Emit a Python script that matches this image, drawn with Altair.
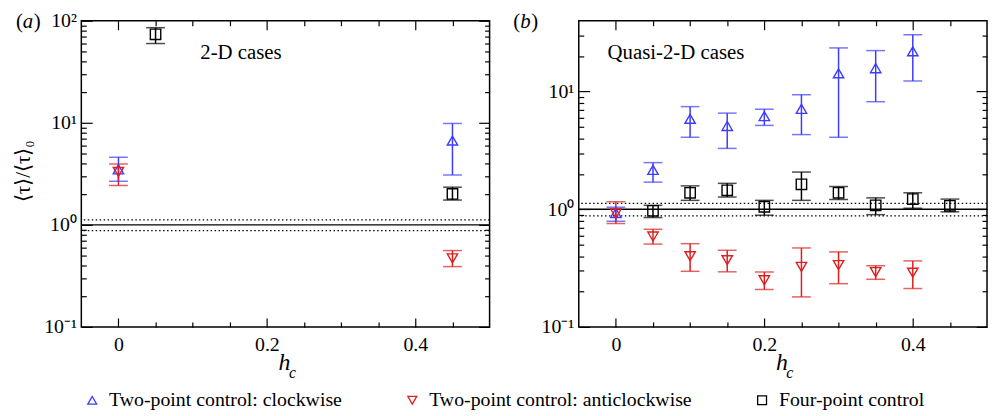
import altair as alt
import pandas as pd

SERIF = "Liberation Serif"

SERIES = ["Two-point control: clockwise", "Two-point control: anticlockwise", "Four-point control"]
COLORS = ["#3c3cff", "#dd1f1f", "#000000"]
SHAPES = ["triangle-up", "triangle-down", "square"]

# ---- panel (a): 2-D cases ----
a_cw_hc = [0.0, 0.45]
a_cw_mean = [3.5, 6.7]
a_cw_lo = [2.67, 3.08]
a_cw_hi = [4.6, 9.85]

a_acw_hc = [0.0, 0.45]
a_acw_mean = [3.3, 0.47]
a_acw_lo = [2.43, 0.39]
a_acw_hi = [3.94, 0.56]

a_four_hc = [0.05, 0.45]
a_four_mean = [73.6, 2.01]
a_four_lo = [59.8, 1.75]
a_four_hi = [85.5, 2.34]

# ---- panel (b): quasi-2-D cases ----
b_cw_hc = [0.0, 0.05, 0.1, 0.15, 0.2, 0.25, 0.3, 0.35, 0.4]
b_cw_mean = [0.93, 2.16, 5.87, 5.1, 6.19, 7.13, 14.3, 15.8, 22.0]
b_cw_lo = [0.79, 1.70, 4.09, 3.29, 5.16, 4.31, 4.09, 8.2, 12.3]
b_cw_hi = [1.04, 2.49, 7.45, 6.56, 7.08, 9.4, 23.5, 22.3, 30.4]

b_acw_hc = [0.0, 0.05, 0.1, 0.15, 0.2, 0.25, 0.3, 0.35, 0.4]
b_acw_mean = [0.92, 0.587, 0.399, 0.369, 0.249, 0.324, 0.335, 0.292, 0.289]
b_acw_lo = [0.755, 0.506, 0.297, 0.294, 0.208, 0.18, 0.233, 0.254, 0.212]
b_acw_hi = [1.16, 0.676, 0.51, 0.448, 0.293, 0.469, 0.434, 0.331, 0.364]

b_four_hc = [0.05, 0.1, 0.15, 0.2, 0.25, 0.3, 0.35, 0.4, 0.45]
b_four_mean = [0.97, 1.38, 1.45, 1.05, 1.63, 1.38, 1.08, 1.22, 1.07]
b_four_lo = [0.85, 1.19, 1.27, 0.89, 1.19, 1.21, 0.90, 1.02, 0.95]
b_four_hi = [1.08, 1.58, 1.66, 1.19, 2.07, 1.56, 1.25, 1.38, 1.22]

ref_solid = [1.0]
ref_dotted = [0.88, 1.12]

x_major = [0.0, 0.2, 0.4]
x_minor = [0.05, 0.1, 0.15, 0.25, 0.3, 0.35, 0.45]

W, H = 412, 309


def series_df(hc, mean, lo, hi, name):
    return pd.DataFrame({"hc": hc, "mean": mean, "lo": lo, "hi": hi, "series": name})


def minor_log(lo_exp, hi_val):
    vals = []
    for e in range(lo_exp, 3):
        for m in range(2, 10):
            v = m * 10.0 ** e
            if v < hi_val:
                vals.append(v)
    return vals


SUP = ("datum.value >= 50 ? '10\u00b2' : datum.value >= 5 ? '10\u00b9' : "
       "datum.value >= 0.5 ? '10\u2070' : '10\u207b\u00b9'")
XLAB = "datum.value == 0 ? '0' : format(datum.value, '.1f')"

LEGEND = dict(
    title=None, orient="none", legendX=1, legendY=373, direction="horizontal",
    columns=3, columnPadding=60, labelFont=SERIF, labelFontSize=20,
    labelColor="black", labelLimit=600, symbolSize=80, symbolStrokeWidth=1.3,
    symbolFillColor="transparent", symbolOffset=0, labelOffset=7,
)


def text_layer(txt, x, y, size, style="normal", align="left", angle=0):
    return alt.Chart(pd.DataFrame({"t": [txt]})).mark_text(
        font=SERIF, fontSize=size, fontStyle=style, align=align,
        baseline="middle", angle=angle, color="black"
    ).encode(text="t:N", x=alt.value(x), y=alt.value(y))


def panel(df, ydomain, y_major, letter, case_text, case_x, with_ytitle):
    xs = alt.Scale(domain=[-0.05, 0.5], nice=False, zero=False)
    ys = alt.Scale(type="log", domain=ydomain, nice=False)
    y_minor = minor_log(-1, ydomain[1])
    col_scale = alt.Scale(domain=SERIES, range=COLORS)
    # same colours, listed in reverse order so this scale keeps no legend of its own
    bar_scale = alt.Scale(domain=SERIES[::-1], range=COLORS[::-1])

    base = alt.Chart(df)

    def axl(xaxis, yaxis):
        return base.mark_point(opacity=0).encode(
            x=alt.X("hc:Q", scale=xs, axis=xaxis),
            y=alt.Y("mean:Q", scale=ys, axis=yaxis),
        )

    common = dict(title=None, domain=False, grid=False)
    ax_a = axl(
        alt.Axis(orient="bottom", values=x_major, labelExpr=XLAB, ticks=False,
                 labelPadding=8, **common),
        alt.Axis(orient="left", values=y_major, labelExpr=SUP, ticks=False,
                 labelPadding=5, **common),
    )
    ax_b = axl(
        alt.Axis(orient="top", offset=-H, values=x_major, labels=False, tickSize=9, **common),
        alt.Axis(orient="right", offset=-W, values=y_major, labels=False, tickSize=11, **common),
    )
    ax_c = axl(
        alt.Axis(orient="top", offset=-H, values=x_minor, labels=False, tickSize=5, **common),
        alt.Axis(orient="right", offset=-W, values=y_minor, labels=False, tickSize=5, **common),
    )
    ax_d = axl(
        alt.Axis(orient="bottom", offset=-H, values=x_major, labels=False, tickSize=9, **common),
        alt.Axis(orient="left", offset=-W, values=y_major, labels=False, tickSize=11, **common),
    )
    ax_e = axl(
        alt.Axis(orient="bottom", offset=-H, values=x_minor, labels=False, tickSize=5, **common),
        alt.Axis(orient="left", offset=-W, values=y_minor, labels=False, tickSize=5, **common),
    )

    solid = alt.Chart(pd.DataFrame({"y": ref_solid})).mark_rule(
        color="black", strokeWidth=1.4).encode(y=alt.Y("y:Q", scale=ys, axis=None))
    dotted = alt.Chart(pd.DataFrame({"y": ref_dotted})).mark_rule(
        color="black", strokeWidth=1.3, strokeDash=[1.5, 2.5]).encode(y=alt.Y("y:Q", scale=ys, axis=None))

    pts = base.mark_point(filled=False, size=110, strokeWidth=1.4, opacity=1).encode(
        x=alt.X("hc:Q", scale=xs, axis=None),
        y=alt.Y("mean:Q", scale=ys, axis=None),
        color=alt.Color("series:N", scale=col_scale, legend=alt.Legend(**LEGEND)),
        shape=alt.Shape("series:N", scale=alt.Scale(domain=SERIES, range=SHAPES),
                        legend=alt.Legend(**LEGEND)),
    )
    bars = base.mark_rule(strokeWidth=1.5).encode(
        x=alt.X("hc:Q", scale=xs, axis=None),
        y=alt.Y("lo:Q", scale=ys, axis=None),
        y2="hi:Q",
        stroke=alt.Stroke("series:N", scale=bar_scale, legend=None),
    )
    cap_lo = base.mark_tick(orient="horizontal", size=19, thickness=1.5).encode(
        x=alt.X("hc:Q", scale=xs, axis=None),
        y=alt.Y("lo:Q", scale=ys, axis=None),
        fill=alt.Fill("series:N", scale=bar_scale, legend=None),
    )
    cap_hi = base.mark_tick(orient="horizontal", size=19, thickness=1.5).encode(
        x=alt.X("hc:Q", scale=xs, axis=None),
        y=alt.Y("hi:Q", scale=ys, axis=None),
        fill=alt.Fill("series:N", scale=bar_scale, legend=None),
    )

    layers = [ax_a, ax_b, ax_c, ax_d, ax_e, solid, dotted, bars, cap_lo, cap_hi, pts]
    # panel letter "(x)"
    layers.append(text_layer("(", -66, 1, 21))
    layers.append(text_layer(letter, -59, 1, 21, style="italic"))
    layers.append(text_layer(")", -48, 1, 21))
    layers.append(text_layer(case_text, case_x, 33, 21))
    # x axis title h_c
    layers.append(text_layer("h", 205, 345, 24, style="italic", align="center"))
    layers.append(text_layer("c", 213, 356, 16, style="italic", align="center"))
    if with_ytitle:
        layers.append(text_layer("\u27e8\u03c4\u27e9/\u27e8\u03c4\u27e9\u2080", -58, 152, 21,
                                 align="center", angle=270))

    return alt.layer(*layers).resolve_axis(x="independent", y="independent").properties(
        width=W, height=H)


df_a = pd.concat([
    series_df(a_cw_hc, a_cw_mean, a_cw_lo, a_cw_hi, SERIES[0]),
    series_df(a_acw_hc, a_acw_mean, a_acw_lo, a_acw_hi, SERIES[1]),
    series_df(a_four_hc, a_four_mean, a_four_lo, a_four_hi, SERIES[2]),
], ignore_index=True)

df_b = pd.concat([
    series_df(b_cw_hc, b_cw_mean, b_cw_lo, b_cw_hi, SERIES[0]),
    series_df(b_acw_hc, b_acw_mean, b_acw_lo, b_acw_hi, SERIES[1]),
    series_df(b_four_hc, b_four_mean, b_four_lo, b_four_hi, SERIES[2]),
], ignore_index=True)

left = panel(df_a, [0.1, 100], [0.1, 1, 10, 100], "a", "2-D cases", 120, True)
right = panel(df_b, [0.1, 40], [0.1, 1, 10], "b", "Quasi-2-D cases", 29, False)

chart = alt.hconcat(left, right, spacing=90, bounds="flush").properties(
    padding={"left": 4, "top": 0, "right": 0, "bottom": 0}
).configure_view(
    stroke="black", strokeWidth=1.5
).configure_axis(
    labelFont=SERIF, labelFontSize=20, labelColor="black",
    tickColor="black", tickWidth=1.2
).configure_legend(
    symbolFillColor="transparent"
)

chart.save("out.html", embed_options={"renderer": "svg", "actions": False})
